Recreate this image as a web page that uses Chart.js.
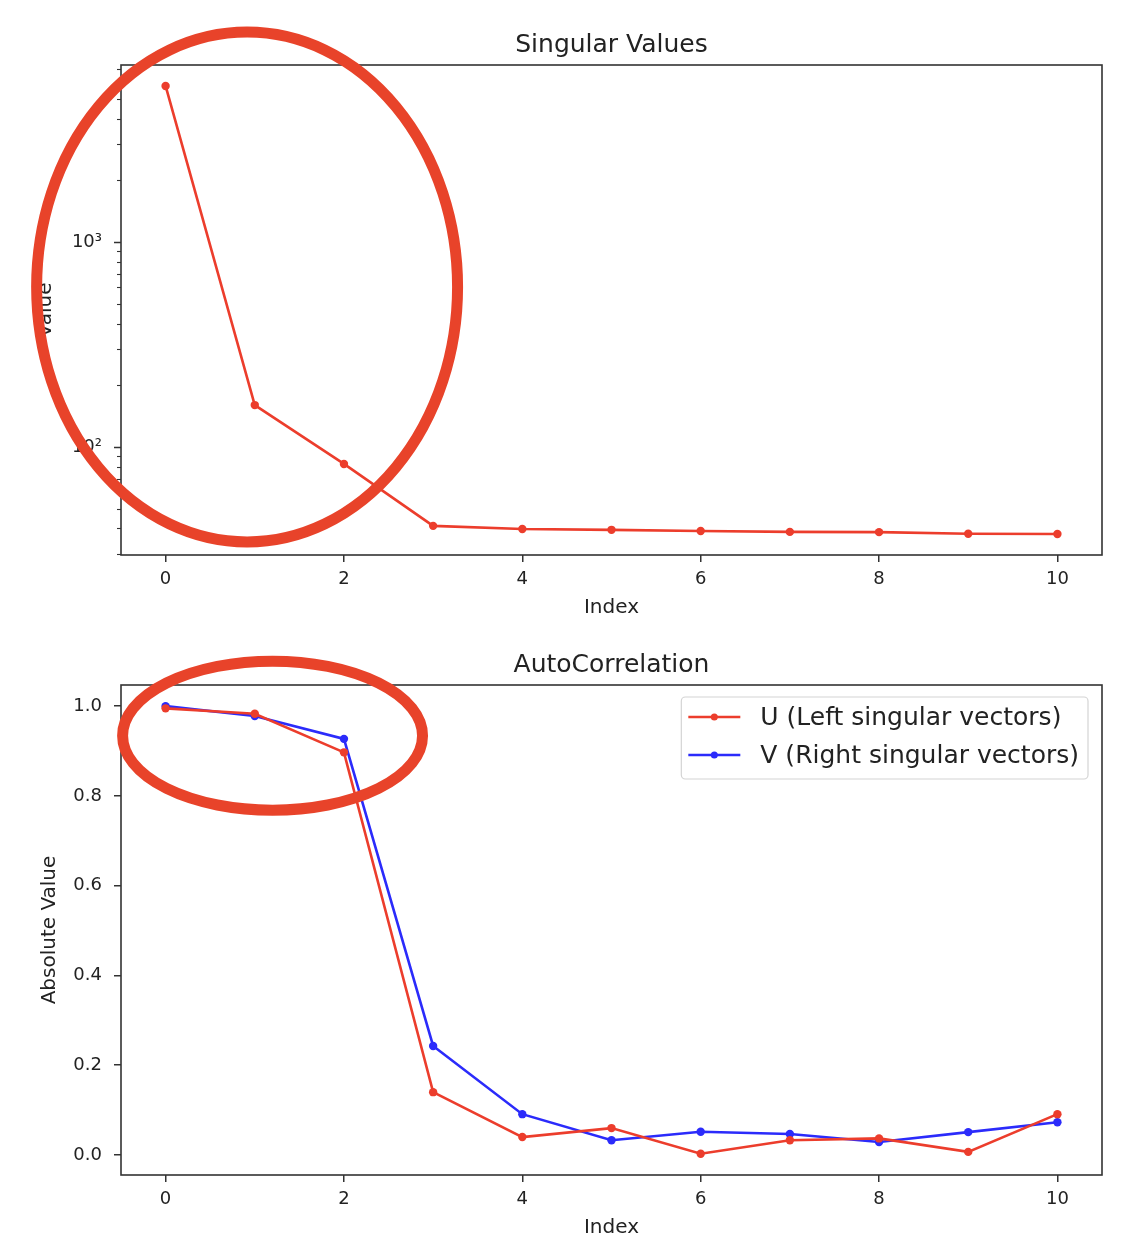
<!DOCTYPE html>
<html>
<head>
<meta charset="utf-8">
<script src="https://cdn.jsdelivr.net/npm/chart.js@4.4.0/dist/chart.umd.min.js"></script>
<style>
  body { margin: 0; background: #fff; width: 1136px; height: 1248px; overflow: hidden; }
  .panel { position: absolute; left: 0; width: 1136px; height: 620px; }
</style>
</head>
<body>
<div class="panel" style="top:0"><canvas id="svChart" width="1136" height="620"></canvas></div>
<div class="panel" style="top:620px"><canvas id="acChart" width="1136" height="620"></canvas></div>
<script>
// data
const indices = [0, 1, 2, 3, 4, 5, 6, 7, 8, 9, 10];
const singularValues = [5770, 160, 82.6, 41.2, 39.8, 39.4, 38.9, 38.5, 38.4, 37.7, 37.6];
const autoU = [0.995, 0.983, 0.897, 0.140, 0.040, 0.060, 0.003, 0.033, 0.037, 0.007, 0.091];
const autoV = [1.000, 0.978, 0.927, 0.243, 0.091, 0.033, 0.052, 0.047, 0.029, 0.051, 0.073];

const xTicks = [0, 2, 4, 6, 8, 10];
const acTicks = [0, 0.2, 0.4, 0.6, 0.8, 1.0];
const svMajorTicks = [100, 1000];
const svDecades = [10, 100, 1000];

// axis limits (matplotlib 5% margins)
const xMin = -0.5, xMax = 10.5;
const svMin = 29.7, svMax = 7300;
const acMin = -0.0445, acMax = 1.047;

const RED = '#ec3d2c';
const BLUE = '#2b2bfb';
const RING = '#e8432a';

Chart.defaults.font.family = '"DejaVu Sans", sans-serif';
Chart.defaults.color = '#222';

// box round the plot area, like matplotlib spines
const framePlugin = {
    id: 'frame',
    afterDatasetsDraw(chart) {
        const { ctx, chartArea: a } = chart;
        ctx.save();
        ctx.strokeStyle = '#333';
        ctx.lineWidth = 1.6;
        ctx.strokeRect(a.left, a.top, a.right - a.left, a.bottom - a.top);
        ctx.restore();
    }
};

// short minor / long major ticks on the log axis
const logTickPlugin = {
    id: 'logTicks',
    afterDraw(chart) {
        const y = chart.scales.y;
        const left = chart.chartArea.left;
        const ctx = chart.ctx;
        ctx.save();
        ctx.strokeStyle = '#333';
        y.ticks.forEach(t => {
            if (t.value < y.min || t.value > y.max) return;
            const major = svMajorTicks.includes(t.value);
            const py = Math.round(y.getPixelForValue(t.value)) + 0.5;
            ctx.lineWidth = major ? 1.5 : 1.1;
            ctx.beginPath();
            ctx.moveTo(left, py);
            ctx.lineTo(left - (major ? 7 : 4), py);
            ctx.stroke();
        });
        ctx.restore();
    }
};

// legend box inside the plot, top right
const boxLegendPlugin = {
    id: 'boxLegend',
    afterDraw(chart) {
        const { ctx, chartArea: a } = chart;
        const sets = chart.data.datasets;
        ctx.save();
        ctx.font = '25px "DejaVu Sans"';
        const textW = Math.max(...sets.map(d => ctx.measureText(d.label).width));
        const w = 7 + 52 + 20 + textW + 9, h = 82;
        const bx = a.right - 14 - w, by = a.top + 12;
        ctx.fillStyle = 'rgba(255,255,255,0.85)';
        ctx.strokeStyle = '#d4d4d4';
        ctx.lineWidth = 1.2;
        ctx.beginPath();
        ctx.roundRect(bx, by, w, h, 4);
        ctx.fill();
        ctx.stroke();
        sets.forEach((d, i) => {
            const ly = by + 20 + i * 38;
            ctx.strokeStyle = d.borderColor;
            ctx.lineWidth = d.borderWidth;
            ctx.beginPath();
            ctx.moveTo(bx + 7, ly);
            ctx.lineTo(bx + 59, ly);
            ctx.stroke();
            ctx.fillStyle = d.borderColor;
            ctx.beginPath();
            ctx.arc(bx + 33, ly, 3.5, 0, Math.PI * 2);
            ctx.fill();
            ctx.fillStyle = '#222';
            ctx.textBaseline = 'middle';
            ctx.fillText(d.label, bx + 79, ly + 1);
        });
        ctx.restore();
    }
};

// hand-drawn looking red ring, placed in data coordinates
const ringPlugin = {
    id: 'ring',
    afterDraw(chart, args, opts) {
        const { x, y } = chart.scales;
        const x1 = x.getPixelForValue(opts.x[0]), x2 = x.getPixelForValue(opts.x[1]);
        const y1 = y.getPixelForValue(opts.y[0]), y2 = y.getPixelForValue(opts.y[1]);
        const ctx = chart.ctx;
        ctx.save();
        ctx.strokeStyle = RING;
        ctx.lineWidth = 11;
        ctx.beginPath();
        ctx.ellipse((x1 + x2) / 2, (y1 + y2) / 2, Math.abs(x2 - x1) / 2, Math.abs(y2 - y1) / 2, 0, 0, Math.PI * 2);
        ctx.stroke();
        ctx.restore();
    }
};

function lineSet(label, values, color) {
    return {
        label: label,
        data: indices.map((x, i) => ({ x: x, y: values[i] })),
        borderColor: color,
        backgroundColor: color,
        borderWidth: 2.6,
        pointRadius: 4.2,
        pointBorderWidth: 0,
        pointBackgroundColor: color,
        tension: 0
    };
}

function xScale() {
    return {
        type: 'linear',
        min: xMin,
        max: xMax,
        afterBuildTicks: axis => { axis.ticks = xTicks.map(v => ({ value: v })); },
        afterFit: scale => { scale.height = 65; },
        grid: { display: true, drawOnChartArea: false, drawTicks: true, tickLength: 7, color: '#333', lineWidth: 1.5 },
        border: { display: false },
        ticks: { font: { size: 18 }, padding: 7, maxRotation: 0, autoSkip: false, color: '#222' },
        title: { display: true, text: 'Index', font: { size: 20 }, padding: { top: 0, bottom: 0 }, color: '#222' }
    };
}

function titleOpts(text) {
    return {
        display: true,
        text: text,
        fullSize: false,
        font: { size: 25, weight: 'normal' },
        color: '#222',
        padding: { top: 30, bottom: 5 }
    };
}

new Chart(document.getElementById('svChart'), {
    type: 'line',
    data: { datasets: [lineSet('Singular Values', singularValues, RED)] },
    options: {
        responsive: false,
        animation: false,
        layout: { padding: { left: 0, right: 34, top: 0, bottom: 0 } },
        plugins: {
            legend: { display: false },
            tooltip: { enabled: false },
            title: titleOpts('Singular Values'),
            ring: { x: [-1.446, 3.274], y: [34.4, 10570] }
        },
        scales: {
            x: xScale(),
            y: {
                type: 'logarithmic',
                min: svMin,
                max: svMax,
                afterBuildTicks: axis => {
                    const list = [];
                    svDecades.forEach(d => {
                        for (let m = 1; m <= 9; m++) {
                            const v = d * m;
                            if (v >= svMin && v <= svMax) list.push({ value: v });
                        }
                    });
                    axis.ticks = list;
                },
                afterFit: scale => { scale.width = 121; },
                grid: { display: false, drawTicks: false },
                border: { display: false },
                ticks: {
                    font: { size: 18 },
                    padding: 19,
                    autoSkip: false,
                    color: '#222',
                    callback: v => v === 100 ? '10²' : v === 1000 ? '10³' : ''
                },
                title: { display: true, text: 'Value', font: { size: 20 }, padding: { top: 34, bottom: 0 }, color: '#222' }
            }
        }
    },
    plugins: [framePlugin, logTickPlugin, ringPlugin]
});

new Chart(document.getElementById('acChart'), {
    type: 'line',
    data: {
        datasets: [
            lineSet('U (Left singular vectors)', autoU, RED),
            lineSet('V (Right singular vectors)', autoV, BLUE)
        ]
    },
    options: {
        responsive: false,
        animation: false,
        layout: { padding: { left: 0, right: 34, top: 0, bottom: 0 } },
        plugins: {
            legend: { display: false },
            tooltip: { enabled: false },
            title: titleOpts('AutoCorrelation'),
            ring: { x: [-0.482, 2.881], y: [0.768, 1.100] }
        },
        scales: {
            x: xScale(),
            y: {
                type: 'linear',
                min: acMin,
                max: acMax,
                afterBuildTicks: axis => { axis.ticks = acTicks.map(v => ({ value: v })); },
                afterFit: scale => { scale.width = 121; },
                grid: { display: true, drawOnChartArea: false, drawTicks: true, tickLength: 7, color: '#333', lineWidth: 1.5 },
                border: { display: false },
                ticks: { font: { size: 18 }, padding: 12, autoSkip: false, color: '#222', callback: v => v.toFixed(1) },
                title: { display: true, text: 'Absolute Value', font: { size: 20 }, padding: { top: 38, bottom: 0 }, color: '#222' }
            }
        }
    },
    plugins: [framePlugin, boxLegendPlugin, ringPlugin]
});
</script>
</body>
</html>
